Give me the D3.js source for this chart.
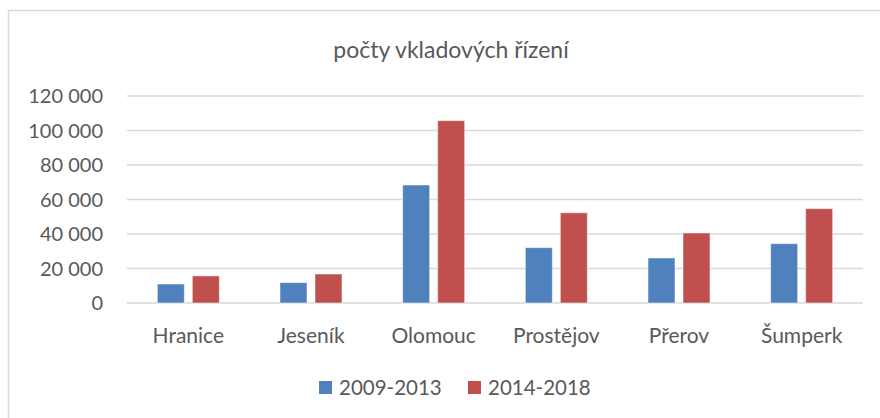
<!DOCTYPE html>
<html>
<head>
<meta charset="utf-8">
<script src="https://cdn.jsdelivr.net/npm/d3@7"></script>
<style>
  body { margin: 0; background: #fff; }
  text { font-family: Lato, "Open Sans", sans-serif; fill: #595959; }
</style>
</head>
<body>
<svg class="chart"></svg>
<script>
var title = 'počty vkladových řízení';
var categories = ['Hranice', 'Jeseník', 'Olomouc', 'Prostějov', 'Přerov', 'Šumperk'];
var seriesNames = ['2009-2013', '2014-2018'];
var series1 = [11000, 11800, 68400, 32100, 26100, 34400];
var series2 = [15700, 16800, 105700, 52300, 40600, 54700];
var yTicks = [0, 20000, 40000, 60000, 80000, 100000, 120000];
var colors = ['#4F81BD', '#C0504D'];

var svgwidth = 880;
var svgheight = 418;

var margins = {
  top: 96,
  bottom: 115,
  left: 127,
  right: 17
};

var width = svgwidth - margins.left - margins.right;
var height = svgheight - margins.top - margins.bottom;

var svg = d3.select('.chart').attr('width', svgwidth).attr('height', svgheight);

// chart frame
svg.append('rect')
   .attr('x', 8.5).attr('y', 10.5)
   .attr('width', svgwidth).attr('height', svgheight)
   .attr('fill', 'none')
   .attr('stroke', '#d9d9d9')
   .attr('stroke-width', 1.5);

svg.append('text')
   .attr('x', 451).attr('y', 58)
   .attr('text-anchor', 'middle')
   .style('font-size', '23px')
   .text(title);

var plot = svg.append('g')
              .attr('transform', 'translate(' + margins.left + ',' + margins.top + ')');

var xscale = d3.scaleBand().domain(categories).range([0, width]);
var yscale = d3.scaleLinear().domain([0, 120000]).range([height, 0]);

var fmt = function(d) {
  return d3.format(',')(d).replace(/,/g, ' ');
};

// gridlines
plot.selectAll('.grid').data(yTicks).enter().append('line')
    .attr('x1', 0).attr('x2', width)
    .attr('y1', function(d) { return yscale(d); })
    .attr('y2', function(d) { return yscale(d); })
    .attr('stroke', '#d9d9d9')
    .attr('stroke-width', 1.3);

plot.selectAll('.ytick').data(yTicks).enter().append('text')
    .attr('x', -24)
    .attr('y', function(d) { return yscale(d); })
    .attr('dy', '0.35em')
    .attr('text-anchor', 'end')
    .style('font-size', '20px')
    .text(fmt);

var barw = 27;
var gap = 8;

var data = categories.map(function(c, i) {
  return { cat: c, vals: [series1[i], series2[i]] };
});

var groups = plot.selectAll('.cat').data(data).enter().append('g')
                 .attr('transform', function(d) {
                   return 'translate(' + (xscale(d.cat) + xscale.bandwidth() / 2) + ',0)';
                 });

groups.selectAll('rect').data(function(d) { return d.vals; }).enter().append('rect')
      .attr('x', function(d, i) { return i == 0 ? -barw - gap / 2 : gap / 2; })
      .attr('y', function(d) { return yscale(d); })
      .attr('width', barw)
      .attr('height', function(d) { return height - yscale(d); })
      .attr('fill', function(d, i) { return colors[i]; })
      .attr('stroke', 'rgba(255,255,255,0.5)')
      .attr('stroke-width', 1);

plot.selectAll('.xlabel').data(categories).enter().append('text')
    .attr('x', function(d) { return xscale(d) + xscale.bandwidth() / 2; })
    .attr('y', height + 40)
    .attr('text-anchor', 'middle')
    .style('font-size', '21px')
    .text(function(d) { return d; });

// legend
var legendX = [319, 468];
var legend = svg.selectAll('.legend').data(seriesNames).enter().append('g')
                .attr('transform', function(d, i) { return 'translate(' + legendX[i] + ',381)'; });

legend.append('rect')
      .attr('width', 13).attr('height', 13)
      .attr('fill', function(d, i) { return colors[i]; });

legend.append('text')
      .attr('x', 20).attr('y', 7)
      .attr('dy', '0.35em')
      .style('font-size', '20.5px')
      .text(function(d) { return d; });
</script>
</body>
</html>
